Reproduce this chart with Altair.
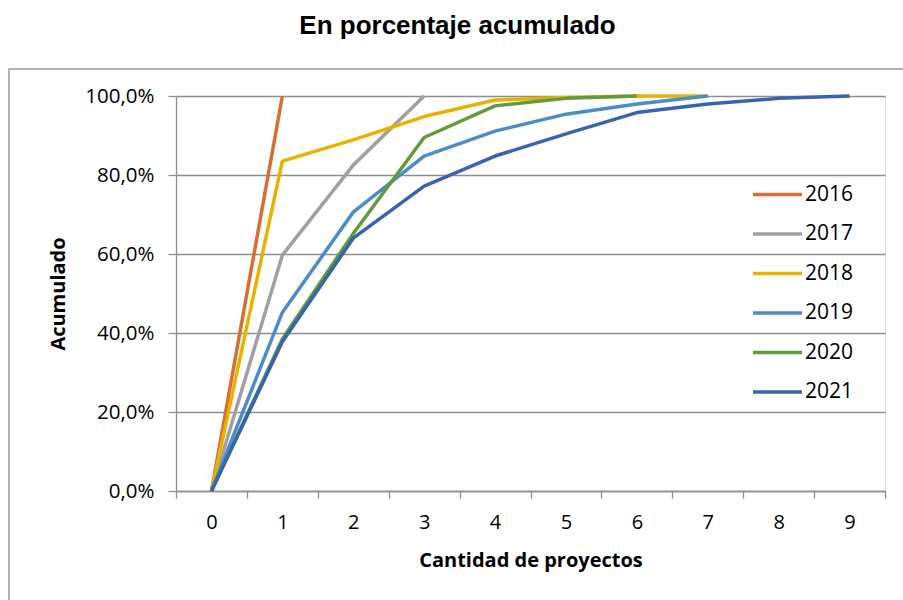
import altair as alt
import pandas as pd

# Cumulative share of organisations by number of projects, one series per year
years = ["2016", "2017", "2018", "2019", "2020", "2021"]
projects = list(range(10))
pct_2016 = [0.0, 100.0]
pct_2017 = [0.0, 59.7, 82.5, 100.0]
pct_2018 = [0.0, 83.5, 88.9, 94.8, 99.0, 99.6, 100.0, 100.0]
pct_2019 = [0.0, 45.2, 70.6, 84.8, 91.1, 95.4, 98.0, 100.0]
pct_2020 = [0.0, 38.5, 65.2, 89.5, 97.5, 99.4, 100.0]
pct_2021 = [0.0, 37.8, 64.0, 77.2, 84.8, 90.4, 95.8, 98.0, 99.4, 100.0]
colors = ["#D86E30", "#A0A0A0", "#E8B200", "#4A8DC8", "#629B3C", "#3863AF"]

series = [pct_2016, pct_2017, pct_2018, pct_2019, pct_2020, pct_2021]
rows = []
for year, vals in zip(years, series):
    for n, v in zip(projects, vals):
        rows.append({"year": year, "n": n, "pct": v / 100})
df = pd.DataFrame(rows)

GRID = "#8E8E8E"
LABEL_FONT = "Open Sans"

x_ticks = [i / 2 for i in range(-1, 20)]

lines = alt.Chart(df).mark_line(strokeWidth=3.5, strokeJoin="round").encode(
    x=alt.X(
        "n:Q",
        scale=alt.Scale(domain=[-0.5, 9.5], nice=False, zero=False),
        axis=alt.Axis(
            values=x_ticks,
            labelExpr="datum.value % 1 == 0 ? datum.value : ''",
            tickOpacity={"condition": {"test": "datum.value % 1 == 0", "value": 0}, "value": 1},
            grid=False,
            title="Cantidad de proyectos",
            domainColor=GRID,
            domainWidth=1.3,
            tickColor=GRID,
            tickWidth=1.3,
            tickSize=7,
            labelFont=LABEL_FONT,
            labelFontSize=20,
            labelColor="#000000",
            labelPadding=14,
            labelFlush=False,
            titleFont=LABEL_FONT,
            titleFontSize=20,
            titleFontWeight="bold",
            titleColor="#000000",
            titlePadding=18,
        ),
    ),
    y=alt.Y(
        "pct:Q",
        scale=alt.Scale(domain=[0, 1], nice=False),
        axis=alt.Axis(
            values=[0, 0.2, 0.4, 0.6, 0.8, 1.0],
            labelExpr="replace(format(datum.value, '.1%'), '.', ',')",
            grid=True,
            gridColor=GRID,
            gridWidth=1.3,
            domainColor=GRID,
            domainWidth=1.3,
            tickColor=GRID,
            tickWidth=1.3,
            tickSize=8,
            title="Acumulado",
            labelFont=LABEL_FONT,
            labelFontSize=20.5,
            labelColor="#000000",
            labelPadding=14,
            titleFont=LABEL_FONT,
            titleFontSize=20,
            titleFontWeight="bold",
            titleColor="#000000",
            titlePadding=16,
        ),
    ),
    color=alt.Color(
        "year:N",
        scale=alt.Scale(domain=years, range=colors),
        legend=alt.Legend(
            title=None,
            orient="none",
            legendX=575,
            legendY=72,
            symbolType="stroke",
            symbolSize=2400,
            symbolStrokeWidth=3.5,
            labelFont=LABEL_FONT,
            labelFontSize=21,
            labelColor="#000000",
            labelOffset=1,
            rowPadding=2.5,
        ),
    ),
    order="n:Q",
)

# Outer chart frame
frame = alt.Chart(alt.Data(values=[{}])).mark_rect(
    fill=None, stroke="#9A9A9A", strokeWidth=1.5
).encode(
    x=alt.value(-167), x2=alt.value(760), y=alt.value(-27), y2=alt.value(540)
)

chart = alt.layer(frame, lines).properties(
    width=709,
    height=395,
    title=alt.TitleParams(
        "En porcentaje acumulado",
        font="Arial",
        fontSize=26,
        fontWeight="bold",
        color="#000000",
        anchor="middle",
        dx=-73,
        offset=29,
    ),
    autosize=alt.AutoSizeParams(type="none"),
    padding={"left": 176, "top": 96, "right": 18, "bottom": 109},
).configure_view(stroke=None).configure(background="#FFFFFF")

chart.save("out.html", embed_options={"renderer": "svg", "actions": False})
